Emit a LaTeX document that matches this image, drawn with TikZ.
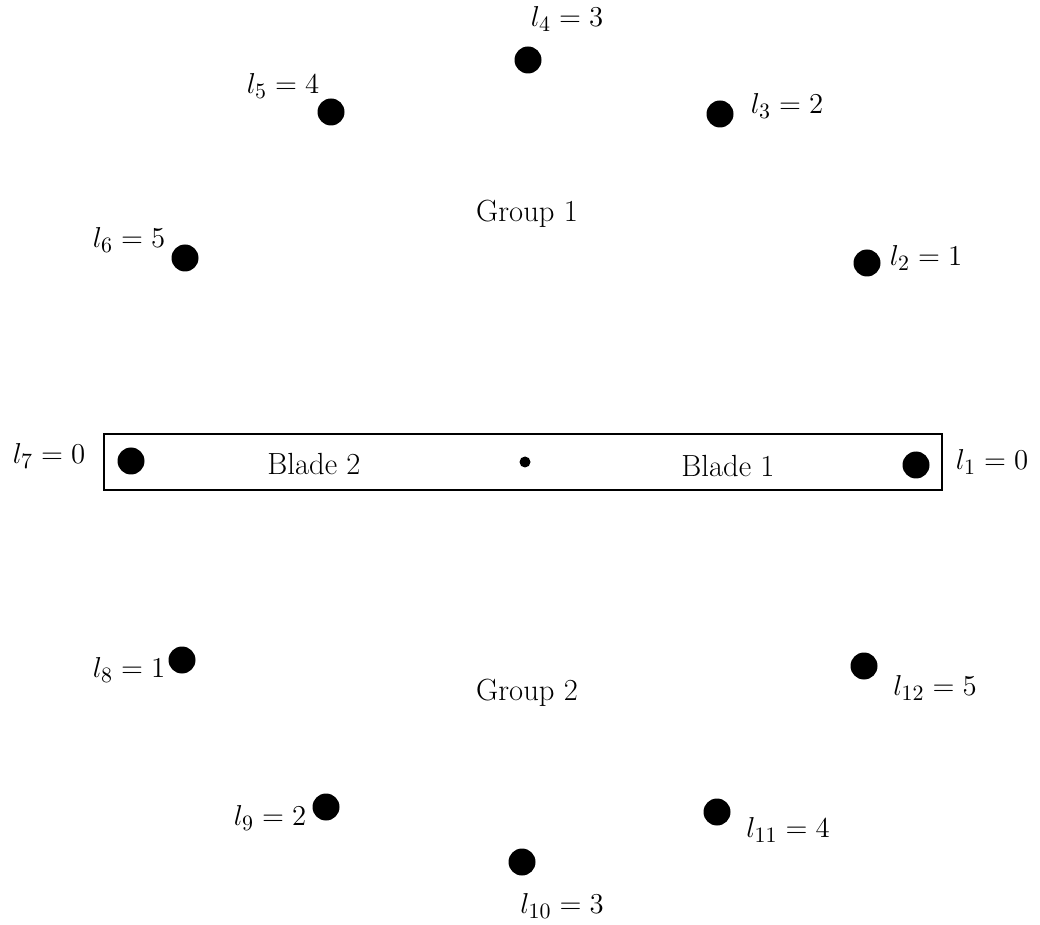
\documentclass[tikz,border=0pt]{standalone}
\begin{document}
\begin{tikzpicture}[x=0.5pt,y=-0.5pt,
  bigdot/.style={circle,fill=black,inner sep=0pt,minimum size=13.5pt},
  smalldot/.style={circle,fill=black,inner sep=0pt,minimum size=5.5pt},
  lab/.style={inner sep=0pt,font=\fontsize{15.3}{18}\selectfont},
  bladebox/.style={draw,line width=0.8pt}]
\useasboundingbox (0,0) rectangle (1040,925);
% box
\draw[bladebox] (104,434) rectangle (942,490);
% dots
\node[bigdot] (d1) at (916,465) {};
\node[bigdot] (d2) at (867,263) {};
\node[bigdot] (d3) at (720,114) {};
\node[bigdot] (d4) at (528,60) {};
\node[bigdot] (d5) at (331,112) {};
\node[bigdot] (d6) at (185,258) {};
\node[bigdot] (d7) at (131,461) {};
\node[bigdot] (d8) at (182,660) {};
\node[bigdot] (d9) at (326,807) {};
\node[bigdot] (d10) at (522,862) {};
\node[bigdot] (d11) at (717,812) {};
\node[bigdot] (d12) at (864,666) {};
\node[smalldot] (c) at (525,462) {};
% labels
\node[lab] (t1) at (992,462) {$l_1 = 0$};
\node[lab] (t2) at (926,258) {$l_2 = 1$};
\node[lab] (t3) at (787,106) {$l_3 = 2$};
\node[lab] (t4) at (567,19) {$l_4 = 3$};
\node[lab] (t5) at (283,86) {$l_5 = 4$};
\node[lab] (t6) at (129,240) {$l_6 = 5$};
\node[lab] (t7) at (49,456) {$l_7 = 0$};
\node[lab] (t8) at (129,670) {$l_8 = 1$};
\node[lab] (t9) at (270,818) {$l_9 = 2$};
\node[lab] (t10) at (562,906) {$l_{10} = 3$};
\node[lab] (t11) at (788,830) {$l_{11} = 4$};
\node[lab] (t12) at (935,688) {$l_{12} = 5$};
\node[lab] (g1) at (527,214) {Group 1};
\node[lab] (g2) at (527,693) {Group 2};
\node[lab] (b2) at (314,464) {Blade 2};
\node[lab] (b1) at (728,466) {Blade 1};
\end{tikzpicture}
\end{document}
